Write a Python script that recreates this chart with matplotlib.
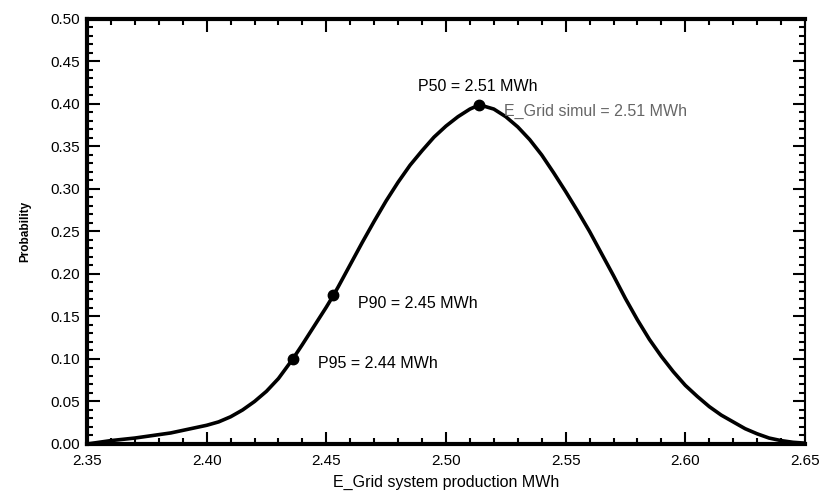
import numpy as np
import matplotlib.pyplot as plt
from matplotlib.ticker import MultipleLocator, FormatStrFormatter

plt.rcParams['font.family'] = ['Liberation Sans', 'DejaVu Sans']

# probability curve
energy = [2.350, 2.355, 2.360, 2.365, 2.370, 2.375, 2.380, 2.385, 2.390, 2.395,
          2.400, 2.405, 2.410, 2.415, 2.420, 2.425, 2.430, 2.436, 2.440, 2.445,
          2.450, 2.453, 2.455, 2.460, 2.465, 2.470, 2.475, 2.480, 2.485, 2.490,
          2.495, 2.500, 2.505, 2.510, 2.514, 2.520, 2.525, 2.530, 2.535, 2.540,
          2.545, 2.550, 2.555, 2.560, 2.565, 2.570, 2.575, 2.580, 2.585, 2.590,
          2.595, 2.600, 2.605, 2.610, 2.615, 2.620, 2.625, 2.630, 2.635, 2.640,
          2.645, 2.650]
prob = [0.000, 0.002, 0.004, 0.0055, 0.007, 0.009, 0.011, 0.013, 0.016, 0.019,
        0.022, 0.026, 0.032, 0.040, 0.050, 0.062, 0.077, 0.100, 0.117, 0.139,
        0.161, 0.175, 0.185, 0.211, 0.237, 0.262, 0.286, 0.308, 0.328, 0.345,
        0.361, 0.374, 0.385, 0.394, 0.399, 0.394, 0.385, 0.373, 0.358, 0.340,
        0.319, 0.297, 0.274, 0.250, 0.224, 0.198, 0.171, 0.146, 0.123, 0.103,
        0.085, 0.069, 0.056, 0.044, 0.034, 0.026, 0.018, 0.012, 0.007, 0.004,
        0.002, 0.001]

# marked points
mark_x = [2.514, 2.453, 2.436]
mark_y = [0.399, 0.175, 0.100]
mark_labels = ['P50 = 2.51 MWh', 'P90 = 2.45 MWh', 'P95 = 2.44 MWh']
simul_label = 'E_Grid simul = 2.51 MWh'

fig = plt.figure(figsize=(8.22, 5.03), dpi=100)
ax = fig.add_axes([0.1058, 0.1173, 0.8735, 0.845])

ax.plot(energy, prob, color='black', lw=2.6, solid_joinstyle='round',
        solid_capstyle='round')
ax.plot(mark_x, mark_y, 'o', color='black', ms=7.5)

# label offsets in pixels relative to each dot
offsets = [(-61, 18), (25, -8), (25, -5)]
for lab, x, y, (dx, dy) in zip(mark_labels, mark_x, mark_y, offsets):
    ax.annotate(lab, (x, y), xytext=(dx, dy), textcoords='offset pixels',
                ha='left', va='center', fontsize=11.5)
ax.annotate(simul_label, (mark_x[0], mark_y[0]), xytext=(25, -7),
            textcoords='offset pixels', ha='left', va='center',
            fontsize=11.5, color='0.4')

ax.set_xlim(2.35, 2.65)
ax.set_ylim(0, 0.5)
ax.xaxis.set_major_locator(MultipleLocator(0.05))
ax.xaxis.set_minor_locator(MultipleLocator(0.01))
ax.yaxis.set_major_locator(MultipleLocator(0.05))
ax.yaxis.set_minor_locator(MultipleLocator(0.01))
ax.xaxis.set_major_formatter(FormatStrFormatter('%.2f'))
ax.yaxis.set_major_formatter(FormatStrFormatter('%.2f'))

ax.tick_params(which='both', direction='in', top=True, right=True, width=1.5)
ax.tick_params(which='major', length=9, labelsize=11)
ax.tick_params(which='minor', length=4.5)
ax.tick_params(axis='x', pad=7)
ax.tick_params(axis='y', pad=5)

for side in ['left', 'bottom', 'top']:
    ax.spines[side].set_linewidth(3)
ax.spines['right'].set_linewidth(1.5)

ax.set_xlabel('E_Grid system production MWh', fontsize=11.5, labelpad=5)
ax.set_ylabel('Probability', fontsize=8.5, fontweight='bold', labelpad=14)

fig.savefig('out.png', dpi=100)
